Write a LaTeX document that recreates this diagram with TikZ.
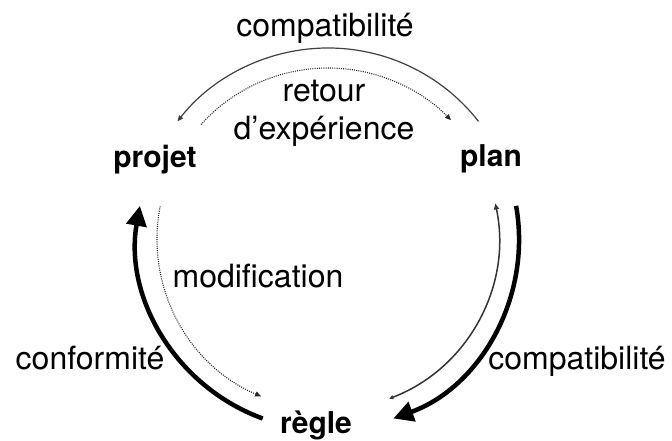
\documentclass[tikz,border=0pt]{standalone}
\usepackage{fontspec}
\setmainfont{TeX Gyre Heros}
\usetikzlibrary{arrows.meta,calc}
\begin{document}
\begin{tikzpicture}[x=1pt,y=1pt,
  lbl/.style={font=\fontsize{32}{38}\selectfont, anchor=base, inner sep=0pt},
  blbl/.style={font=\fontsize{30}{36}\selectfont\bfseries, anchor=base, inner sep=0pt},
  thinarc/.style={line width=1.2pt, draw=black!75, -{Triangle[length=6pt,width=5pt]}},
  dotarc/.style={line width=1.1pt, draw=black!85, dash pattern=on 1pt off 1.2pt, -{Triangle[length=6pt,width=5pt]}},
  thickarc/.style={line width=4.5pt, draw=black, -{Triangle[length=20pt,width=20pt]}},
  midarc/.style={line width=1.5pt, draw=black!80, {Triangle[length=4pt,width=4pt]}-{Triangle[length=6pt,width=5pt]}}
]
\useasboundingbox (0,0) rectangle (672,441);
\coordinate (C) at (328,202);

% texts
\node[lbl] (compTop) at (325,404) {compatibilité};
\node[lbl] (retour) at (324,339) {retour};
\node[lbl] (rex) at (324,301) {d’expérience};
\node[blbl] (projet) at (155,273) {projet};
\node[blbl] (plan) at (491,274) {plan};
\node[lbl] (modif) at (258,153) {modification};
\node[lbl] (conf) at (90,71) {conformité};
\node[lbl] (compR) at (577,71) {compatibilité};
\node[blbl] (regle) at (316,7) {règle};

% arc end points
\coordinate (a1) at ($(C)+(38:191)$);
\coordinate (a2) at ($(C)+(138:171)$);
\coordinate (a3) at ($(C)+(250:191)$);
\coordinate (a4) at ($(C)+(169:171)$);
\coordinate (a5) at ($(C)+(10:191)$);
\coordinate (a6) at ($(C)+(-69:171)$);

% top: plan -> projet (compatibilité), projet -> plan (retour d'expérience)
\draw[thinarc] (a1) arc[start angle=38, end angle=142, radius=191];
\draw[dotarc] (a2) arc[start angle=138, end angle=44, radius=171];
% left: règle -> projet (conformité), projet -> règle (modification)
\draw[thickarc] (a3) arc[start angle=250, end angle=170, radius=191];
\draw[dotarc] (a4) arc[start angle=169, end angle=247, radius=171];
% right: plan -> règle (compatibilité), règle -> plan
\draw[thickarc] (a5) arc[start angle=10, end angle=-70, radius=191];
\draw[midarc] (a6) arc[start angle=-69, end angle=12, radius=171];
\end{tikzpicture}
\end{document}
